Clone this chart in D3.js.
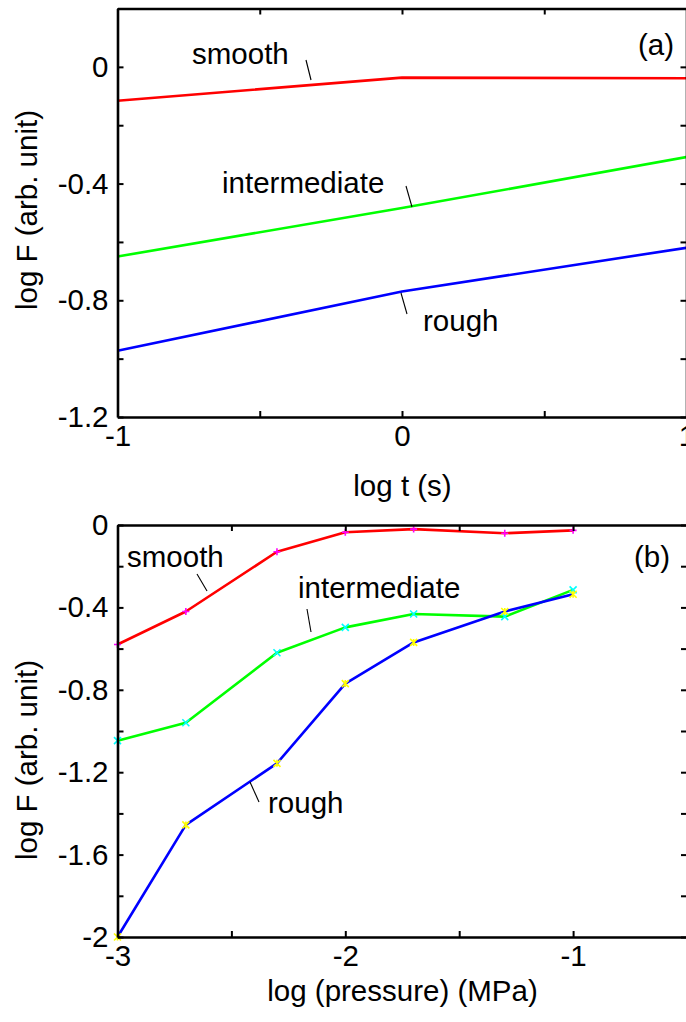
<!DOCTYPE html>
<html><head><meta charset="utf-8">
<script src="https://cdn.jsdelivr.net/npm/d3@7"></script>
<style>
body{margin:0;background:#fff}
svg text{font-family:"Liberation Sans",Arial,Helvetica,sans-serif;fill:#000}
</style>
</head><body>
<svg id="c" width="686" height="1022"></svg>
<script>
// ---------- data: panel (a) ----------
const timeX = [-1, 0, 1];
const timeSmooth = [-0.116, -0.037, -0.039];
const timeIntermediate = [-0.65, -0.484, -0.309];
const timeRough = [-0.973, -0.77, -0.62];
const timeXTicks = [-1, -0.5, 0, 0.5, 1];
const timeXLabels = ["-1", "", "0", "", "1"];
const timeYTicks = [-1.2, -1.0, -0.8, -0.6, -0.4, -0.2, 0, 0.2];
const timeYLabels = ["-1.2", "", "-0.8", "", "-0.4", "", "0", ""];

// ---------- data: panel (b) ----------
const pressureX = [-3, -2.7, -2.3, -2, -1.7, -1.3, -1];
const pressureSmooth = [-0.58, -0.42, -0.13, -0.035, -0.02, -0.04, -0.026];
const pressureIntermediate = [-1.047, -0.96, -0.62, -0.497, -0.432, -0.445, -0.315];
const pressureRough = [-2.0, -1.456, -1.157, -0.77, -0.57, -0.42, -0.336];
const pressureXTicks = [-3, -2.5, -2, -1.5, -1, -0.5];
const pressureXLabels = ["-3", "", "-2", "", "-1", ""];
const pressureYTicks = [-2, -1.8, -1.6, -1.4, -1.2, -1.0, -0.8, -0.6, -0.4, -0.2, 0];
const pressureYLabels = ["-2", "", "-1.6", "", "-1.2", "", "-0.8", "", "-0.4", "", "0"];

const seriesNames = ["smooth", "intermediate", "rough"];
const lineColors = ["#ff0000", "#00ff00", "#0000ff"];
const markerColors = ["#ff00ff", "#00ffff", "#ffff00"];

const svg = d3.select("#c");
svg.append("rect").attr("width", 686).attr("height", 1022).attr("fill", "#fff");
const FS = 29.5;

function panel(o) {
  const x = d3.scaleLinear().domain(o.xDomain).range([o.left, o.right]);
  const y = d3.scaleLinear().domain(o.yDomain).range([o.bottom, o.top]);
  const g = svg.append("g");

  const fmtX = (d) => o.xLabels[o.xTicks.indexOf(d)];
  const fmtY = (d) => o.yLabels[o.yTicks.indexOf(d)];

  // lines
  const line = d3.line().x(d => x(d[0])).y(d => y(d[1]));
  o.series.forEach((s, i) => {
    const pts = o.xs.map((v, k) => [v, s[k]]);
    g.append("path").attr("d", line(pts)).attr("fill", "none")
      .attr("stroke", lineColors[i]).attr("stroke-width", 2.6)
      .attr("stroke-linejoin", "round");
  });

  // markers
  if (o.markers) {
    o.series.forEach((s, i) => {
      const m = 3.5;
      o.xs.forEach((v, k) => {
        const cx = x(v), cy = y(s[k]);
        let d;
        if (i === 0) d = `M${cx - m},${cy}H${cx + m}M${cx},${cy - m}V${cy + m}`;
        else if (i === 1) d = `M${cx - m},${cy - m}L${cx + m},${cy + m}M${cx - m},${cy + m}L${cx + m},${cy - m}`;
        else d = `M${cx - m},${cy - m}L${cx + m},${cy + m}M${cx - m},${cy + m}L${cx + m},${cy - m}M${cx},${cy - m}V${cy + m}`;
        g.append("path").attr("d", d).attr("stroke", markerColors[i])
          .attr("stroke-width", 1.6).attr("fill", "none");
      });
    });
  }

  // axes (MATLAB style, ticks inward, full box)
  const ax = [];
  ax.push(g.append("g").attr("transform", `translate(0,${o.bottom})`)
    .call(d3.axisBottom(x).tickValues(o.xTicks).tickFormat(fmtX).tickSize(-6).tickSizeOuter(0).tickPadding(8)));
  ax.push(g.append("g").attr("transform", `translate(0,${o.top})`)
    .call(d3.axisTop(x).tickValues(o.xTicks).tickFormat("").tickSize(-6).tickSizeOuter(0)));
  ax.push(g.append("g").attr("transform", `translate(${o.left},0)`)
    .call(d3.axisLeft(y).tickValues(o.yTicks).tickFormat(fmtY).tickSize(-6).tickSizeOuter(0).tickPadding(9)));
  ax.push(g.append("g").attr("transform", `translate(${o.right},0)`)
    .call(d3.axisRight(y).tickValues(o.yTicks).tickFormat("").tickSize(-6).tickSizeOuter(0)));
  ax.forEach(a => {
    a.attr("font-size", FS).attr("font-family", null);
    a.select(".domain").attr("stroke", "#000").attr("stroke-width", 2.6);
    a.selectAll(".tick line").attr("stroke", "#000").attr("stroke-width", 2);
    a.selectAll(".tick text").attr("fill", "#000");
  });

  // annotation labels with leader lines
  o.notes.forEach(n => {
    g.append("text").attr("x", n.tx).attr("y", n.ty).attr("font-size", FS).text(n.text);
    g.append("line").attr("x1", n.l[0]).attr("y1", n.l[1]).attr("x2", n.l[2]).attr("y2", n.l[3])
      .attr("stroke", "#000").attr("stroke-width", 1.1);
  });

  // panel tag
  g.append("text").attr("x", o.tag[1]).attr("y", o.tag[2]).attr("font-size", FS)
    .attr("text-anchor", "middle").text(o.tag[0]);

  // axis titles
  g.append("text").attr("x", (o.left + 402 * 0 + o.labelXCenter)).attr("y", o.xTitleY)
    .attr("text-anchor", "middle").attr("font-size", FS).text(o.xTitle);
  g.append("text").attr("transform", `translate(37,${o.yTitleCenter}) rotate(-90)`)
    .attr("text-anchor", "middle").attr("font-size", FS).text("log F (arb. unit)");
}

panel({
  xDomain: [-1, 1], yDomain: [-1.2, 0.2],
  left: 117.5, right: 686.5, top: 8.5, bottom: 417,
  xs: timeX, series: [timeSmooth, timeIntermediate, timeRough], markers: false,
  xTicks: timeXTicks, xLabels: timeXLabels, yTicks: timeYTicks, yLabels: timeYLabels,
  notes: [
    {text: seriesNames[0], tx: 192, ty: 64, l: [306, 60, 311, 80]},
    {text: seriesNames[1], tx: 222, ty: 193, l: [406, 186, 412, 207]},
    {text: seriesNames[2], tx: 423, ty: 331, l: [401, 293, 407, 314]}
  ],
  tag: ["(a)", 656, 55],
  labelXCenter: 285, xTitleY: 496, xTitle: "log t (s)", yTitleCenter: 210
});

panel({
  xDomain: [-3, -0.5], yDomain: [-2, 0],
  left: 117.5, right: 687, top: 525, bottom: 937,
  xs: pressureX, series: [pressureSmooth, pressureIntermediate, pressureRough], markers: true,
  xTicks: pressureXTicks, xLabels: pressureXLabels, yTicks: pressureYTicks, yLabels: pressureYLabels,
  notes: [
    {text: seriesNames[0], tx: 127, ty: 567, l: [197, 574, 207, 591]},
    {text: seriesNames[1], tx: 298, ty: 598, l: [307, 609, 311, 632]},
    {text: seriesNames[2], tx: 268, ty: 813, l: [250, 782, 259, 802]}
  ],
  tag: ["(b)", 652, 567],
  labelXCenter: 285, xTitleY: 1001, xTitle: "log (pressure) (MPa)", yTitleCenter: 760
});
</script>
</body></html>
